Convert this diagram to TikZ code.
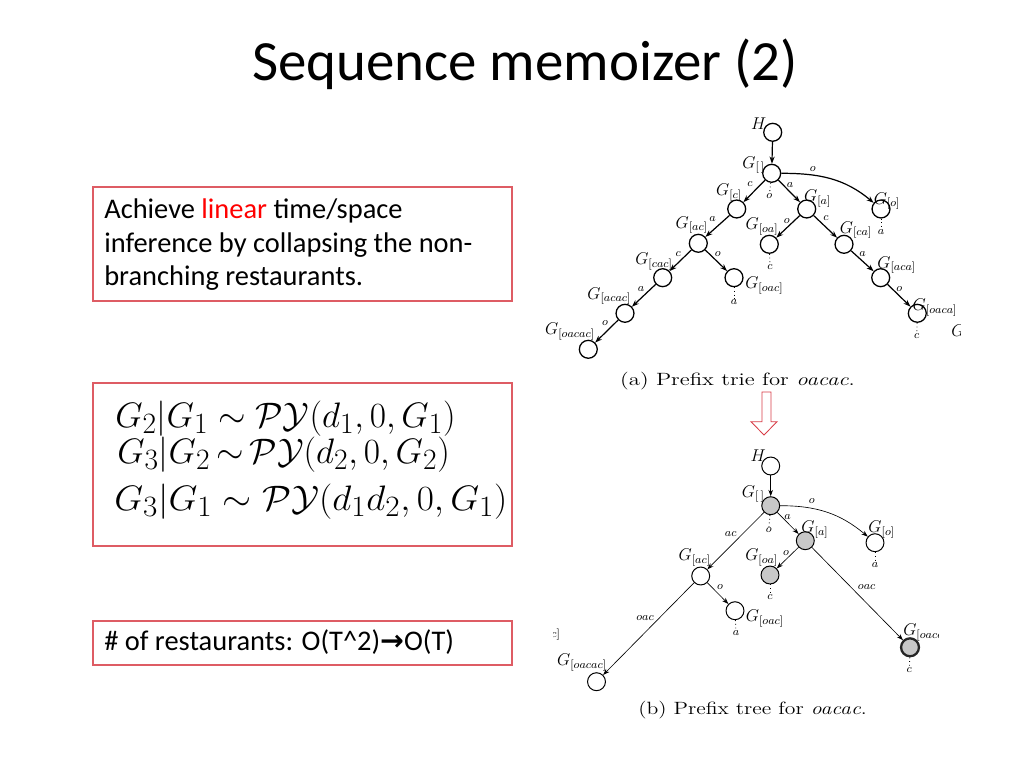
\documentclass[tikz,border=0pt]{standalone}
\usepackage{fontspec}
\setmainfont{Carlito}
\newfontfamily\djv{DejaVu Sans}
\newfontfamily\lmr{Latin Modern Roman}
\usetikzlibrary{arrows.meta}
\definecolor{boxred}{RGB}{222,92,100}
\definecolor{arrred}{RGB}{215,60,70}
\definecolor{ndgray}{RGB}{200,200,200}
\tikzset{
  box/.style={draw=boxred, line width=0.8pt, inner sep=0pt},
  body/.style={anchor=base west, inner sep=0pt, font=\fontsize{20}{24}\selectfont},
  eqn/.style={anchor=base west, inner sep=0pt, font=\fontsize{28}{32}\selectfont},
  nd/.style={circle, draw, line width=0.9pt, minimum size=12.6pt, inner sep=0pt, fill=white},
  snd/.style={circle, draw, line width=0.7pt, minimum size=12.6pt, inner sep=0pt, fill=white},
  gnd/.style={snd, fill=ndgray},
  glab/.style={inner sep=0pt, font=\fontsize{12}{14}\selectfont},
  elab/.style={inner sep=0pt, font=\fontsize{8}{9}\selectfont},
  tedge/.style={line width=0.85pt, -{Stealth[length=5pt,width=3.6pt]}},
  sedge/.style={line width=0.45pt, -{Stealth[length=4.5pt,width=3.2pt]}},
  dotl/.style={line width=0.6pt, dotted},
  captxt/.style={inner sep=0pt, font=\lmr\fontsize{12.5}{14}\selectfont}
}
\begin{document}
\begin{tikzpicture}[x=0.703125pt,y=-0.703125pt]
\useasboundingbox (0,0) rectangle (1024,768);
% title
\node[anchor=base, inner sep=0pt, font=\fontsize{40}{48}\selectfont] (title) at (525,81) {Sequence memoizer (2)};
% box 1
\node[box, minimum width=294.6pt, minimum height=80.2pt] (b1) at (302.5,244) {};
\node[body] (l1) at (104,219) {Achieve \textcolor{red}{linear} time/space};
\node[body] (l2) at (104,252.5) {inference by collapsing the non-};
\node[body] (l3) at (104,286) {branching restaurants.};
% box 2
\node[box, minimum width=294.6pt, minimum height=114.6pt] (b2) at (302.5,464.5) {};
\node[eqn] (e1) at (115,427) {$G_2|G_1 \sim \mathcal{P}\mathcal{Y}(d_1,0,G_1)$};
\node[eqn] (e2) at (117,463) {$G_3|G_2 \mathrel{\mkern-2mu\sim\mkern-2mu} \mathcal{P}\mathcal{Y}(d_2,0,G_2)$};
\node[eqn, xscale=1.055] (e3) at (114,510) {$G_3|G_1 \sim \mathcal{P}\mathcal{Y}(d_1d_2,0,G_1)$};
% box 3
\node[box, minimum width=294.6pt, minimum height=31pt] (b3) at (302.5,643) {};
\node[body] (l4) at (104,650) {\# of restaurants: O(T\textasciicircum 2){\djv\bfseries →}O(T)};

% ---------------- trie ----------------
\begin{scope}
\clip (530,105) rectangle (960,365);
\node[nd] (tH) at (772.7,132.3) {};
\node[nd] (t0) at (771.7,173.3) {};
\node[nd] (tc) at (736.7,209) {};
\node[nd] (ta) at (806.7,209) {};
\node[nd] (to) at (881,209) {};
\node[nd] (tac) at (698.3,243.3) {};
\node[nd] (toa) at (769.3,244.3) {};
\node[nd] (tca) at (844,244.3) {};
\node[nd] (tcac) at (662.7,277.7) {};
\node[nd] (toac) at (734,277.7) {};
\node[nd] (taca) at (880.7,277.7) {};
\node[nd] (tacac) at (625,313.3) {};
\node[nd] (toaca) at (917.3,313.3) {};
\node[nd] (toacac) at (588.3,349.3) {};
\node[glab] (LtH) at (758.7,123.7) {$H$};
\node[glab] (Lt0) at (753.7,165) {$G_{[\,]}$};
\node[glab] (Ltc) at (729,192.3) {$G_{[c]}$};
\node[glab] (Lta) at (817.7,198.3) {$G_{[a]}$};
\node[glab] (Lto) at (887,201) {$G_{[o]}$};
\node[glab] (Ltac) at (691.7,225) {$G_{[ac]}$};
\node[glab] (Ltoa) at (762,226.7) {$G_{[oa]}$};
\node[glab] (Ltca) at (856,230) {$G_{[ca]}$};
\node[glab] (Ltcac) at (654,261.7) {$G_{[cac]}$};
\node[glab] (Ltoac) at (764.3,285.7) {$G_{[oac]}$};
\node[glab] (Ltaca) at (896.7,265) {$G_{[aca]}$};
\node[glab] (Ltacac) at (609.3,296) {$G_{[acac]}$};
\node[glab] (Ltoaca) at (935,307.3) {$G_{[oaca]}$};
\node[glab] (Ltoacac) at (570,331.7) {$G_{[oacac]}$};
\node[glab, anchor=west] (Ltcut) at (951,331) {$G$};
\draw[tedge] (tH) -- (t0);
\draw[tedge] (t0) -- (tc);
\draw[tedge] (t0) -- (ta);
\draw[tedge] (t0) to[out=0, in=140] (to);
\draw[tedge] (tc) -- (tac);
\draw[tedge] (ta) -- (toa);
\draw[tedge] (ta) -- (tca);
\draw[tedge] (tac) -- (tcac);
\draw[tedge] (tac) -- (toac);
\draw[tedge] (tca) -- (taca);
\draw[tedge] (tcac) -- (tacac);
\draw[tedge] (taca) -- (toaca);
\draw[tedge] (tacac) -- (toacac);
\node[elab] (et1) at (812.7,169) {$o$};
\node[elab] (et2) at (750,184.3) {$c$};
\node[elab] (et3) at (790,185) {$a$};
\node[elab] (et4) at (712.7,219) {$a$};
\node[elab] (et5) at (786.7,221) {$o$};
\node[elab] (et6) at (826,218.3) {$c$};
\node[elab] (et7) at (678.3,254.3) {$c$};
\node[elab] (et8) at (717.7,254.3) {$o$};
\node[elab] (et9) at (862.7,254.3) {$a$};
\node[elab] (et10) at (641,289.3) {$a$};
\node[elab] (et11) at (899.3,289) {$o$};
\node[elab] (et12) at (605,323.3) {$o$};
\node[elab] (dt1) at (769.3,195.7) {$o$};
\node[elab] (dt2) at (881,231.7) {$a$};
\node[elab] (dt3) at (770,267.3) {$c$};
\node[elab] (dt4) at (734,301.7) {$a$};
\node[elab] (dt5) at (916.7,335.7) {$c$};
\draw[dotl] (t0) -- (dt1);
\draw[dotl] (to) -- (dt2);
\draw[dotl] (toa) -- (dt3);
\draw[dotl] (toac) -- (dt4);
\draw[dotl] (toaca) -- (dt5);
\end{scope}
\node[captxt, xscale=1.28] (capa) at (737.5,381) {(a) Prefix trie for \textit{oacac}.};

% hollow arrow
\draw[arrred, line width=0.6pt] (762,392) -- (771,392) -- (771,421.7) -- (777,421.7) -- (764,435) -- (751,421.7) -- (762,421.7) -- cycle;

% ---------------- tree ----------------
\begin{scope}
\clip (553,440) rectangle (938,700);
\node[snd] (sH) at (770.7,466) {};
\node[gnd] (s0) at (770.7,505.7) {};
\node[gnd] (sa) at (805.3,540.7) {};
\node[snd] (so) at (875,542.7) {};
\node[gnd] (soa) at (770,575) {};
\node[snd] (sac) at (700.7,576) {};
\node[snd] (soac) at (735,610.7) {};
\node[gnd, line width=1.6pt, draw=black!85] (soaca) at (910,647.3) {};
\node[snd] (soacac) at (596.5,681.7) {};
\node[glab] (LsH) at (758.3,456) {$H$};
\node[glab] (Ls0) at (753.3,494) {$G_{[\,]}$};
\node[glab] (Lsa) at (815,529.3) {$G_{[a]}$};
\node[glab] (Lso) at (881.7,529.3) {$G_{[o]}$};
\node[glab] (Lsoa) at (761.7,557.3) {$G_{[oa]}$};
\node[glab] (Lsac) at (694.7,557.3) {$G_{[ac]}$};
\node[glab] (Lsoac) at (765,618.3) {$G_{[oac]}$};
\node[glab, anchor=west] (Lsoaca) at (903,632.7) {$G_{[oaca]}$};
\node[glab] (Lsoacac) at (582,662.7) {$G_{[oacac]}$};
\node[glab, anchor=east] (Lscut) at (561,632) {$G_{[oacac]}$};
\draw[sedge] (sH) -- (s0);
\draw[sedge] (s0) -- (sa);
\draw[sedge] (s0) -- (sac);
\draw[sedge] (s0) to[out=0, in=140] (so);
\draw[sedge] (sa) -- (soa);
\draw[sedge] (sa) -- (soaca);
\draw[sedge] (sac) -- (soac);
\draw[sedge] (sac) -- (soacac);
\node[elab] (es1) at (811.7,501) {$o$};
\node[elab] (es2) at (787.7,516.7) {$a$};
\node[elab] (es3) at (730.7,534) {$ac$};
\node[elab] (es4) at (786,553.3) {$o$};
\node[elab] (es5) at (720,586.7) {$o$};
\node[elab] (es6) at (866.7,586.7) {$oac$};
\node[elab] (es7) at (645,617.7) {$oac$};
\node[elab] (ds1) at (768.7,530) {$o$};
\node[elab] (ds2) at (875,565) {$a$};
\node[elab] (ds3) at (770,597.3) {$c$};
\node[elab] (ds4) at (736,633.3) {$a$};
\node[elab] (ds5) at (909.3,670) {$c$};
\draw[dotl] (s0) -- (ds1);
\draw[dotl] (so) -- (ds2);
\draw[dotl] (soa) -- (ds3);
\draw[dotl] (soac) -- (ds4);
\draw[dotl] (soaca) -- (ds5);
\end{scope}
\node[captxt, xscale=1.22] (capb) at (752.5,710) {(b) Prefix tree for \textit{oacac}.};
\end{tikzpicture}
\end{document}
